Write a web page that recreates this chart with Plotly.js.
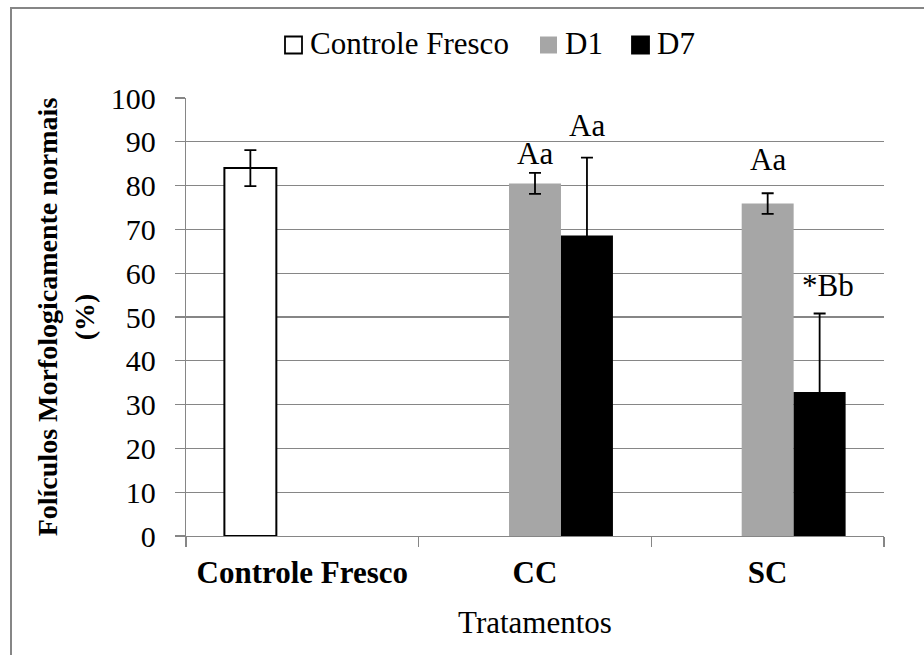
<!DOCTYPE html>
<html>
<head>
<meta charset="utf-8">
<script src="https://cdn.plot.ly/plotly-3.0.1.min.js"></script>
<style>
html,body{margin:0;padding:0;background:#fff;}
#chart{width:924px;height:655px;}
</style>
</head>
<body>
<div id="chart"></div>
<script>
// ---- data ----
var categories = ['Controle Fresco', 'CC', 'SC'];
var seriesNames = ['Controle Fresco', 'D1', 'D7'];
var controleX = ['Controle Fresco'];
var controleY = [84.0];
var controleErr = [4.1];
var treatX = ['CC', 'SC'];
var d1Y = [80.5, 75.9];
var d1Err = [2.4, 2.35];
var d7Y = [68.6, 32.9];
var d7Err = [17.8, 17.9];
var d1Labels = ['Aa', 'Aa'];
var d7Labels = ['Aa', '*Bb'];

// ---- layout helpers ----
var W = 924, H = 655;
var M = {l: 186, r: 40, t: 98, b: 119};
var PW = W - M.l - M.r, PH = H - M.t - M.b;
function px(x) { return (x - M.l) / PW; }
function py(y) { return (M.t + PH - y) / PH; }

var FONT = 'Liberation Serif';
var GRID = '#868686';
var errStyle = {type: 'data', visible: true, color: '#000', thickness: 1.8, width: 6};

var traces = [
  {type: 'bar', name: seriesNames[0], x: controleX, y: controleY,
   marker: {color: '#ffffff', line: {color: '#000', width: 2}},
   error_y: Object.assign({array: controleErr}, errStyle), showlegend: false, hoverinfo: 'x+y'},
  {type: 'bar', name: seriesNames[1], x: treatX, y: d1Y,
   marker: {color: '#a6a6a6', line: {width: 0}},
   error_y: Object.assign({array: d1Err}, errStyle), showlegend: false, hoverinfo: 'x+y'},
  {type: 'bar', name: seriesNames[2], x: treatX, y: d7Y,
   marker: {color: '#000000', line: {width: 0}},
   error_y: Object.assign({array: d7Err}, errStyle), showlegend: false, hoverinfo: 'x+y'}
];

var barPx = PW / categories.length * (1 - 0.33) / 3;

var annotations = [];
var d1Shift = [0, 14];
var d7Shift = [13, 9];
for (var i = 0; i < treatX.length; i++) {
  annotations.push({xref: 'x', yref: 'y', x: treatX[i], y: d1Y[i] + d1Err[i],
    text: d1Labels[i], showarrow: false, xanchor: 'center', yanchor: 'bottom',
    yshift: d1Shift[i], font: {family: FONT, size: 31, color: '#000'}});
  annotations.push({xref: 'x', yref: 'y', x: treatX[i], y: d7Y[i] + d7Err[i],
    text: d7Labels[i], showarrow: false, xanchor: 'center', yanchor: 'bottom',
    xshift: barPx + (i === 1 ? 8 : 0), yshift: d7Shift[i], font: {family: FONT, size: 31, color: '#000'}});
}

// custom legend
var legendItems = [
  {name: seriesNames[0], sx: 285, tx: 308, fill: '#ffffff', line: '#000'},
  {name: seriesNames[1], sx: 540, tx: 563, fill: '#a6a6a6', line: '#a6a6a6'},
  {name: seriesNames[2], sx: 632, tx: 655, fill: '#000000', line: '#000'}
];
var shapes = [];
legendItems.forEach(function (it) {
  shapes.push({type: 'rect', xref: 'paper', yref: 'paper',
    x0: px(it.sx), x1: px(it.sx + 17), y0: py(36.5), y1: py(53.5),
    fillcolor: it.fill, line: {color: it.line, width: it.line === it.fill ? 0 : 1.8}});
  annotations.push({xref: 'paper', yref: 'paper', x: px(it.tx), y: py(44),
    text: it.name, showarrow: false, xanchor: 'left', yanchor: 'middle',
    font: {family: FONT, size: 31, color: '#000'}});
});
// chart border
shapes.push({type: 'rect', xref: 'paper', yref: 'paper', layer: 'below',
  x0: px(11), x1: px(940), y0: py(670), y1: py(8),
  fillcolor: 'rgba(0,0,0,0)', line: {color: GRID, width: 2}});

var layout = {
  width: W, height: H,
  margin: M,
  paper_bgcolor: '#fff', plot_bgcolor: '#fff',
  barmode: 'group', bargap: 0.33, bargroupgap: 0,
  showlegend: false,
  font: {family: FONT, color: '#000'},
  xaxis: {type: 'category', categoryorder: 'array', categoryarray: categories,
    showline: true, linecolor: GRID, linewidth: 1.3, mirror: false,
    ticks: 'outside', tickson: 'boundaries', ticklen: 10, tickcolor: GRID, tickwidth: 1.3,
    showgrid: false, zeroline: false, ticklabelstandoff: 8,
    tickfont: {family: FONT, size: 31, color: '#000', weight: 'bold'},
    title: {text: 'Tratamentos', font: {family: FONT, size: 31, color: '#000'}, standoff: 22}},
  yaxis: {range: [0, 100], dtick: 10, tick0: 0,
    showline: true, linecolor: GRID, linewidth: 1.3,
    ticks: 'outside', ticklen: 10, tickcolor: GRID, tickwidth: 1.3,
    showgrid: true, gridcolor: GRID, gridwidth: 1.3, zeroline: false,
    ticklabelstandoff: 13,
    tickfont: {family: FONT, size: 30, color: '#000'},
    title: {text: 'Folículos Morfologicamente normais<br>(%)',
      font: {family: FONT, size: 28, color: '#000', weight: 'bold'}, standoff: 8}},
  annotations: annotations,
  shapes: shapes
};

Plotly.newPlot('chart', traces, layout, {displayModeBar: false, staticPlot: true});
</script>
</body>
</html>
